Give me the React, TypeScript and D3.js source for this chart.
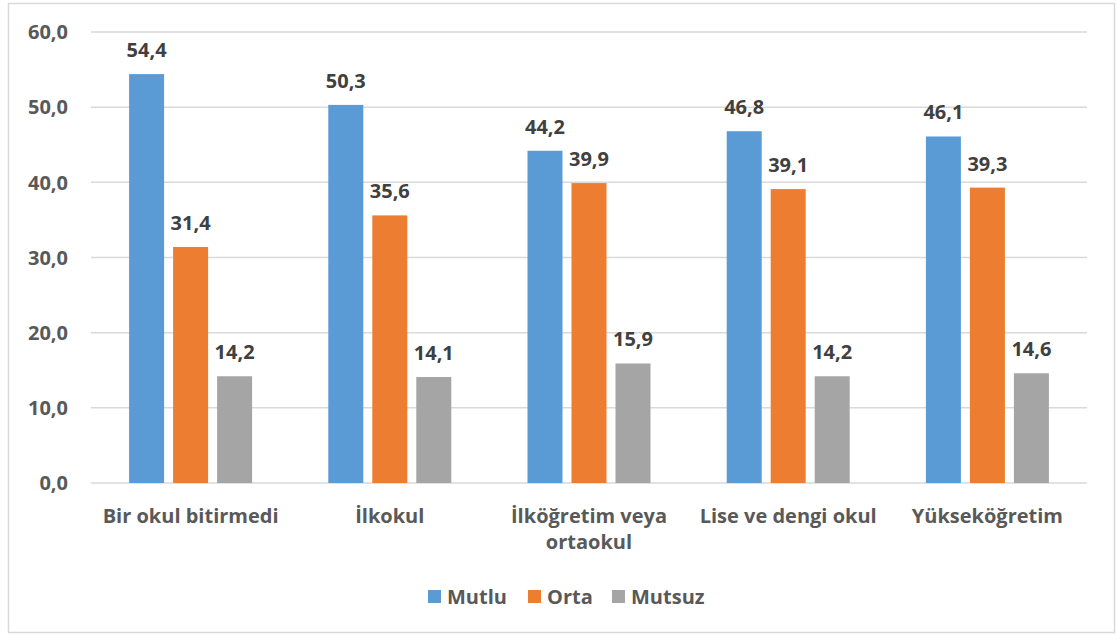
import React, { useEffect, useRef } from 'react';
import * as d3 from 'd3';

const categories = ['Bir okul bitirmedi', 'İlkokul', 'İlköğretim veya ortaokul', 'Lise ve dengi okul', 'Yükseköğretim'];
const categoryLines = [['Bir okul bitirmedi'], ['İlkokul'], ['İlköğretim veya', 'ortaokul'], ['Lise ve dengi okul'], ['Yükseköğretim']];
const seriesNames = ['Mutlu', 'Orta', 'Mutsuz'];
const mutlu = [54.4, 50.3, 44.2, 46.8, 46.1];
const orta = [31.4, 35.6, 39.9, 39.1, 39.3];
const mutsuz = [14.2, 14.1, 15.9, 14.2, 14.6];
const yTicks = [0, 10, 20, 30, 40, 50, 60];
const colors = ['#5B9BD5', '#ED7D31', '#A5A5A5'];

const FONT = '"Open Sans", "DejaVu Sans", sans-serif';

export default function App() {
  const svgRef = useRef<SVGSVGElement | null>(null);

  useEffect(() => {
    if (!svgRef.current) return;
    const width = 1117;
    const height = 635;
    const svg = d3.select(svgRef.current);
    svg.selectAll('*').remove();
    svg.attr('width', width).attr('height', height);

    // outer frame
    svg.append('rect')
      .attr('x', 8.5).attr('y', 3.5)
      .attr('width', 1106).attr('height', 629)
      .attr('fill', 'white')
      .attr('stroke', '#d9d9d9')
      .attr('stroke-width', 1.5);

    const left = 91;
    const right = 1087;
    const x = d3.scaleBand().domain(categories).range([left, right]).paddingInner(0).paddingOuter(0);
    const y = d3.scaleLinear().domain([0, 60]).range([483, 32]);

    const series = [mutlu, orta, mutsuz];
    const barW = 35;
    const gap = 9;
    const groupW = barW * 3 + gap * 2;

    // gridlines
    svg.append('g').selectAll('line')
      .data(yTicks)
      .enter()
      .append('line')
      .attr('x1', left).attr('x2', right)
      .attr('y1', d => y(d)).attr('y2', d => y(d))
      .attr('stroke', '#d9d9d9')
      .attr('stroke-width', 1.5);

    // y tick labels
    svg.append('g').selectAll('text')
      .data(yTicks)
      .enter()
      .append('text')
      .attr('x', 68)
      .attr('y', d => y(d))
      .attr('dy', '0.36em')
      .attr('text-anchor', 'end')
      .style('font-family', FONT)
      .style('font-size', '20px')
      .style('font-weight', 'bold')
      .style('fill', '#595959')
      .text(d => d.toFixed(1).replace('.', ','));

    const fmt = (v: number) => v.toFixed(1).replace('.', ',');

    series.forEach((vals, si) => {
      const g = svg.append('g');
      g.selectAll('rect')
        .data(vals)
        .enter()
        .append('rect')
        .attr('x', (d, i) => (x(categories[i]) as number) + x.bandwidth() / 2 - groupW / 2 + si * (barW + gap))
        .attr('y', d => y(d))
        .attr('width', barW)
        .attr('height', d => y(0) - y(d))
        .attr('fill', colors[si]);

      g.selectAll('text')
        .data(vals)
        .enter()
        .append('text')
        .attr('x', (d, i) => (x(categories[i]) as number) + x.bandwidth() / 2 - groupW / 2 + si * (barW + gap) + barW / 2)
        .attr('y', d => y(d) - 17)
        .attr('text-anchor', 'middle')
        .style('font-family', FONT)
        .style('font-size', '20px')
        .style('font-weight', 'bold')
        .style('fill', '#404040')
        .text(d => fmt(d));
    });

    // category labels
    const cat = svg.append('g').selectAll('text')
      .data(categories)
      .enter()
      .append('text')
      .attr('x', d => (x(d) as number) + x.bandwidth() / 2)
      .attr('y', 523)
      .attr('text-anchor', 'middle')
      .style('font-family', FONT)
      .style('font-size', '20px')
      .style('font-weight', 'bold')
      .style('fill', '#595959');
    cat.each(function (d, i) {
      const t = d3.select(this);
      categoryLines[i].forEach((line, li) => {
        t.append('tspan')
          .attr('x', (x(d) as number) + x.bandwidth() / 2)
          .attr('dy', li === 0 ? 0 : 26)
          .text(line);
      });
    });

    // legend
    const legendX = [428, 528, 612];
    const legend = svg.append('g');
    seriesNames.forEach((name, i) => {
      legend.append('rect')
        .attr('x', legendX[i]).attr('y', 590)
        .attr('width', 13).attr('height', 13)
        .attr('fill', colors[i]);
      legend.append('text')
        .attr('x', legendX[i] + 19)
        .attr('y', 604)
        .style('font-family', FONT)
        .style('font-size', '20px')
        .style('font-weight', 'bold')
        .style('fill', '#595959')
        .text(name);
    });
  }, []);

  return (
    <div style={{ position: 'fixed', left: 0, top: 0, background: 'white' }}>
      <svg ref={svgRef}></svg>
    </div>
  );
}
